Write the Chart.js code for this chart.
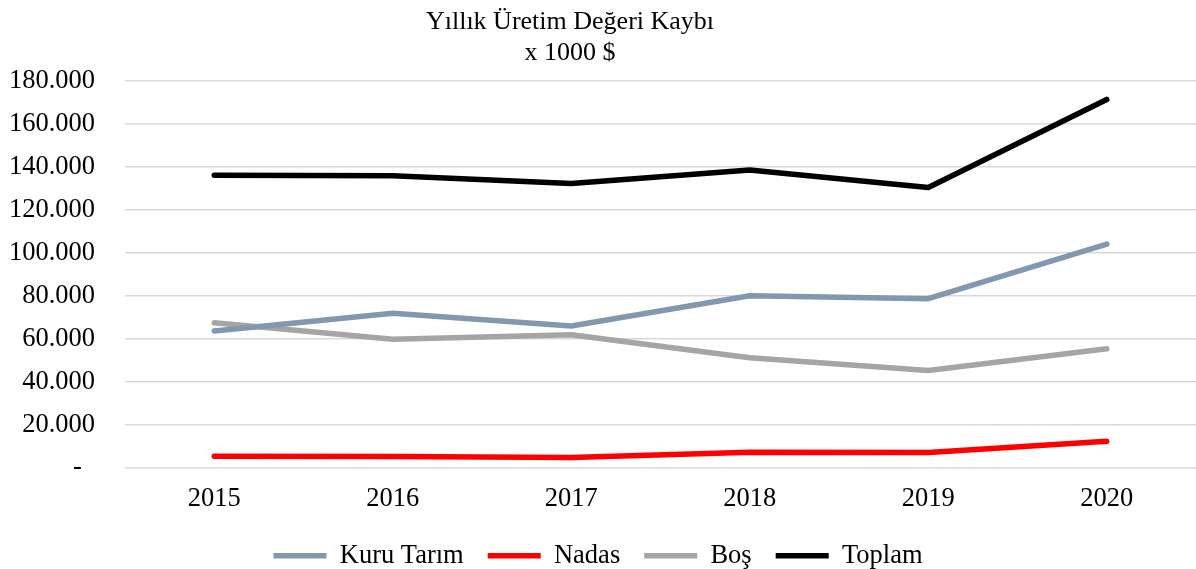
<!DOCTYPE html>
<html lang="tr">
<head>
    <meta charset="UTF-8">
    <title>Yıllık Üretim Değeri Kaybı</title>
    <style>
        body {
            margin: 0;
            padding: 0;
            background: #ffffff;
        }
        #chart {
            display: block;
        }
    </style>
    <script src="https://cdn.jsdelivr.net/npm/chart.js"></script>
</head>
<body>
    <canvas id="chart" width="1196" height="569"></canvas>

    <script>
        // values (x 1000 $)
        const years = ['2015', '2016', '2017', '2018', '2019', '2020'];
        const kuruTarim = [63550, 71800, 65900, 80000, 78600, 104000];
        const nadas = [5260, 5100, 4600, 7100, 7000, 12200];
        const bos = [67460, 59700, 61860, 51140, 45200, 55300];
        const toplam = [136100, 135900, 132300, 138500, 130400, 171400];
        const yTicks = [0, 20000, 40000, 60000, 80000, 100000, 120000, 140000, 160000, 180000];
        const titleLines = ['Yıllık Üretim Değeri Kaybı', 'x 1000 $'];

        const serif = 'Liberation Serif, Times New Roman, serif';

        // accounting style: dots for thousands, zero shown as a dash
        function formatTick(v) {
            if (v === 0) return '-  ';
            return String(v).replace(/\B(?=(\d{3})+(?!\d))/g, '.');
        }

        function lineSet(label, data, color) {
            return {
                label: label,
                data: data,
                borderColor: color,
                backgroundColor: color,
                borderWidth: 5.5,
                borderCapStyle: 'round',
                borderJoinStyle: 'round',
                pointRadius: 0,
                pointHoverRadius: 0,
                tension: 0,
                fill: false
            };
        }

        // title sits a bit left of the canvas centre in the original, so draw it by hand
        const titleText = {
            id: 'titleText',
            afterDraw(chart) {
                const ctx = chart.ctx;
                ctx.save();
                ctx.fillStyle = '#000000';
                ctx.font = '26px ' + serif;
                ctx.textAlign = 'center';
                ctx.textBaseline = 'middle';
                titleLines.forEach((t, i) => ctx.fillText(t, 570, 22 + i * 31));
                ctx.restore();
            }
        };

        new Chart(document.getElementById('chart'), {
            type: 'line',
            data: {
                labels: years,
                datasets: [
                    lineSet('Kuru Tarım', kuruTarim, '#8497b0'),
                    lineSet('Nadas', nadas, '#ff0000'),
                    lineSet('Boş', bos, '#a5a5a5'),
                    lineSet('Toplam', toplam, '#000000')
                ]
            },
            plugins: [titleText],
            options: {
                responsive: false,
                animation: false,
                layout: {
                    // negative bottom pushes the legend down, wide item gaps need the big padding
                    padding: { left: 0, right: 0, top: 81, bottom: -10 }
                },
                plugins: {
                    title: { display: false },
                    legend: {
                        display: true,
                        position: 'bottom',
                        labels: {
                            color: '#000000',
                            font: { family: serif, size: 26.5 },
                            usePointStyle: true,
                            pointStyle: 'line',
                            pointStyleWidth: 53,
                            boxHeight: 26,
                            padding: 24
                        }
                    },
                    tooltip: { enabled: false }
                },
                scales: {
                    x: {
                        offset: true,
                        afterFit: function (scale) { scale.height = 51; },
                        grid: { display: false },
                        border: { display: false },
                        ticks: {
                            color: '#000000',
                            font: { family: serif, size: 26.5 },
                            padding: 8,
                            maxRotation: 0
                        }
                    },
                    y: {
                        min: 0,
                        max: 180000,
                        afterFit: function (scale) { scale.width = 125; },
                        afterBuildTicks: function (scale) {
                            scale.ticks = yTicks.map(v => ({ value: v }));
                        },
                        grid: {
                            color: '#d9d9d9',
                            lineWidth: 1.5,
                            drawTicks: false
                        },
                        border: { display: false },
                        ticks: {
                            color: '#000000',
                            font: { family: serif, size: 26.5 },
                            padding: 30,
                            callback: function (v) { return formatTick(v); }
                        }
                    }
                }
            }
        });
    </script>
</body>
</html>
